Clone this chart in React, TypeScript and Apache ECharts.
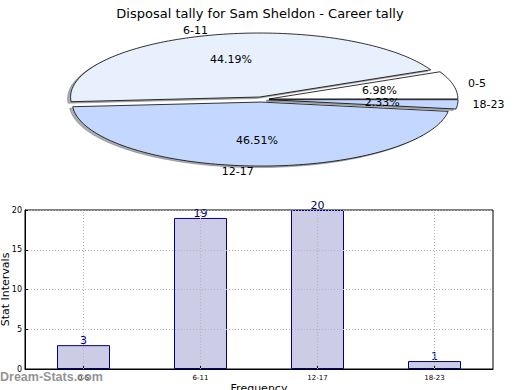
import React, { useEffect, useRef } from "react";
import * as echarts from "echarts";

const titleText = "Disposal tally for Sam Sheldon - Career tally";
const categories = ["0-5", "6-11", "12-17", "18-23"];
const values = [3, 19, 20, 1];
const pieColors = ["#ffffff", "#e8f0fe", "#c4d8ff", "#c4d8ff"];
const yTicks = { min: 0, max: 20, interval: 5 };

const FONT = "DejaVu Sans";

export default function App() {
  const ref = useRef<HTMLDivElement>(null);
  useEffect(() => {
    if (!ref.current) return;
    const chart = echarts.init(ref.current, undefined, { renderer: "svg" });
    const total = values.reduce((a, b) => a + b, 0);
    const cx = 261.5;
    const cy = 99.5;
    const rx = 189;
    const ry = 64;
    const explode = 0.04;

    const renderPie = (params: any, api: any) => {
      const i = params.dataIndex;
      let cum = 0;
      for (let k = 0; k < i; k++) cum += values[k];
      const v = api.value(0);
      const a0 = (2 * Math.PI * cum) / total;
      const a1 = (2 * Math.PI * (cum + v)) / total;
      const m = (a0 + a1) / 2;
      const ox = cx + explode * rx * Math.cos(m);
      const oy = cy - explode * ry * Math.sin(m);
      const pts: number[][] = [[ox, oy]];
      const steps = Math.max(4, Math.ceil(((a1 - a0) / (2 * Math.PI)) * 240));
      for (let s = 0; s <= steps; s++) {
        const a = a0 + ((a1 - a0) * s) / steps;
        pts.push([ox + rx * Math.cos(a), oy - ry * Math.sin(a)]);
      }
      const shadowPts = pts.map((p) => [p[0] - 3, p[1] + 1.5]);
      const pctX = ox + 0.6 * rx * Math.cos(m);
      const pctY = oy - 0.6 * ry * Math.sin(m);
      const lx = ox + 1.08 * rx * Math.cos(m);
      const ly = oy - 1.08 * ry * Math.sin(m);
      const pct = ((v / total) * 100).toFixed(2) + "%";
      return {
        type: "group",
        children: [
          {
            type: "polygon",
            z2: 0,
            shape: { points: shadowPts },
            style: { fill: "rgba(90,92,96,0.5)", stroke: "rgba(90,92,96,0.5)", lineWidth: 0.8 },
          },
          {
            type: "polygon",
            z2: 5,
            shape: { points: pts },
            style: { fill: pieColors[i], stroke: "#000", lineWidth: 0.8, lineJoin: "round" },
          },
          {
            type: "text",
            z2: 10,
            x: pctX,
            y: pctY,
            style: {
              text: pct,
              fill: "#000",
              font: `11px "${FONT}"`,
              align: "center",
              verticalAlign: "middle",
            },
          },
          {
            type: "text",
            z2: 10,
            x: lx,
            y: ly,
            style: {
              text: categories[i],
              fill: "#000",
              font: `11px "${FONT}"`,
              align: Math.cos(m) < 0 ? "right" : "left",
              verticalAlign: "middle",
            },
          },
        ],
      };
    };

    const option: any = {
      animation: false,
      backgroundColor: "#ffffff",
      textStyle: { fontFamily: FONT },
      title: {
        text: titleText,
        left: "center",
        top: 2,
        textStyle: { fontFamily: FONT, fontSize: 13, fontWeight: "normal", color: "#000" },
      },
      grid: {
        left: 25,
        right: 27,
        top: 210,
        bottom: 21,
        show: true,
        borderColor: "#000",
        borderWidth: 1,
        backgroundColor: "transparent",
        containLabel: false,
        outerBoundsMode: "none",
      },
      xAxis: {
        type: "category",
        data: categories,
        z: 3,
        name: "Frequency",
        nameLocation: "middle",
        nameGap: 14,
        nameMoveOverlap: false,
        nameTextStyle: { fontFamily: FONT, fontSize: 11, color: "#000", verticalAlign: "top" },
        axisLine: { show: true, lineStyle: { color: "#000", width: 1 } },
        axisTick: { show: true, inside: true, length: 3, alignWithLabel: true, lineStyle: { color: "#000" } },
        axisLabel: { fontFamily: FONT, fontSize: 7, color: "#000", margin: 5 },
        splitLine: { show: false },
      },
      yAxis: {
        type: "value",
        min: yTicks.min,
        max: yTicks.max,
        interval: yTicks.interval,
        z: 3,
        name: "Stat Intervals",
        nameLocation: "middle",
        nameGap: 14,
        nameMoveOverlap: false,
        nameTextStyle: { fontFamily: FONT, fontSize: 11, color: "#000" },
        axisLine: { show: true, lineStyle: { color: "#000", width: 1 } },
        axisTick: { show: true, inside: true, length: 3, lineStyle: { color: "#000" } },
        axisLabel: { fontFamily: FONT, fontSize: 8, color: "#000", margin: 3 },
        splitLine: { show: true, lineStyle: { color: "#b4b4b4", type: [1, 2], width: 1 } },
      },
      series: [
        {
          type: "custom",
          coordinateSystem: "none",
          data: values,
          renderItem: renderPie,
          silent: true,
        },
        {
          type: "bar",
          data: values,
          barWidth: 53,
          itemStyle: { color: "#ccccE6", borderColor: "#000080", borderWidth: 1 },
          label: {
            show: true,
            position: "top",
            distance: -1,
            color: "#000080",
            fontFamily: FONT,
            fontSize: 11,
          },
          markLine: {
            silent: true,
            symbol: "none",
            z: 4,
            label: { show: false },
            lineStyle: { color: "#b4b4b4", type: [1, 2], width: 1 },
            data: categories.map((c) => ({ xAxis: c })),
          },
        },
      ],
      graphic: [
        {
          type: "text",
          left: 0,
          top: 370,
          z: 100,
          style: {
            text: "Dream-Stats.com",
            fill: "rgba(128,128,128,0.85)",
            font: `bold 12.5px "Liberation Sans"`,
          },
        },
      ],
    };
    chart.setOption(option);
    return () => chart.dispose();
  }, []);
  return <div ref={ref} style={{ width: 520, height: 390, position: "absolute", left: 0, top: 0 }} />;
}
